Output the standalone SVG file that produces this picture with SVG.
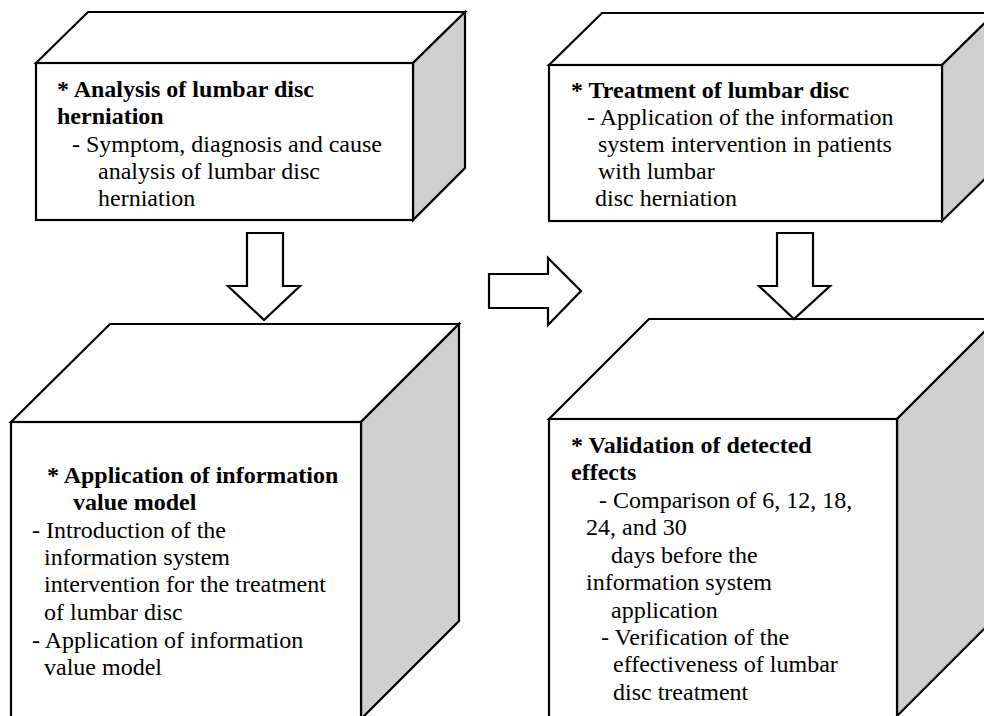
<svg xmlns="http://www.w3.org/2000/svg" width="984" height="716" viewBox="0 0 984 716">
<style>
.face{fill:#ffffff;stroke:#000;stroke-width:2.2;stroke-linejoin:miter}
.side{fill:#cfcfcf;stroke:#000;stroke-width:2.2;stroke-linejoin:miter}
.arrow{fill:#ffffff;stroke:#000;stroke-width:2.2;stroke-linejoin:miter}
text{font-family:"Liberation Serif","Times New Roman",serif;font-size:24px;fill:#000}
.b{font-weight:bold}
</style>
<rect width="984" height="716" fill="#ffffff"/>
<g id="node-analysis">
<polygon class="face" points="36,63 88,12 465,12 413,63"/>
<polygon class="side" points="413,63 465,12 465,168 413,220"/>
<rect class="face" x="36" y="63" width="377" height="157"/>
<text class="b" x="57" y="97">* Analysis of lumbar disc</text>
<text class="b" x="57" y="124">herniation</text>
<text x="72" y="152">- Symptom, diagnosis and cause</text>
<text x="98" y="179">analysis of lumbar disc</text>
<text x="98" y="206">herniation</text>
</g>
<g id="node-treatment">
<polygon class="face" points="549,65 602,13 995,13 942,65"/>
<polygon class="side" points="942,65 995,13 995,169 942,221"/>
<rect class="face" x="549" y="65" width="393" height="156"/>
<text class="b" x="571" y="98">* Treatment of lumbar disc</text>
<text x="587" y="125">- Application of the information</text>
<text x="598" y="152">system intervention in patients</text>
<text x="598" y="179">with lumbar</text>
<text x="595" y="206">disc herniation</text>
</g>
<g id="node-model">
<polygon class="face" points="11,422 110,324 459,324 361,422"/>
<polygon class="side" points="361,422 459,324 459,621 361,719"/>
<rect class="face" x="11" y="422" width="350" height="310"/>
<text class="b" x="47" y="483">* Application of information</text>
<text class="b" x="73" y="510">value model</text>
<text x="32" y="538">- Introduction of the</text>
<text x="44" y="565">information system</text>
<text x="44" y="592">intervention for the treatment</text>
<text x="44" y="620">of lumbar disc</text>
<text x="32" y="648">- Application of information</text>
<text x="44" y="675">value model</text>
</g>
<g id="node-validation">
<polygon class="face" points="549,419 649,319 997,319 897,419"/>
<polygon class="side" points="897,419 997,319 997,616 897,716"/>
<rect class="face" x="549" y="419" width="348" height="313"/>
<text class="b" x="571" y="453">* Validation of detected</text>
<text class="b" x="571" y="480">effects</text>
<text x="599" y="508">- Comparison of 6, 12, 18,</text>
<text x="586" y="535">24, and 30</text>
<text x="611" y="563">days before the</text>
<text x="586" y="590">information system</text>
<text x="611" y="618">application</text>
<text x="601" y="645">- Verification of the</text>
<text x="613" y="672">effectiveness of lumbar</text>
<text x="613" y="700">disc treatment</text>
</g>
<g id="connectors">
<polygon class="arrow" points="247,233 283,233 283,286 300,286 264,320 228,286 247,286"/>
<polygon class="arrow" points="777,233 813,233 813,286 830,286 794,319 759,286 777,286"/>
<polygon class="arrow" points="489,274 548,274 548,258 581,291 548,325 548,308 489,308"/>
</g>
</svg>
